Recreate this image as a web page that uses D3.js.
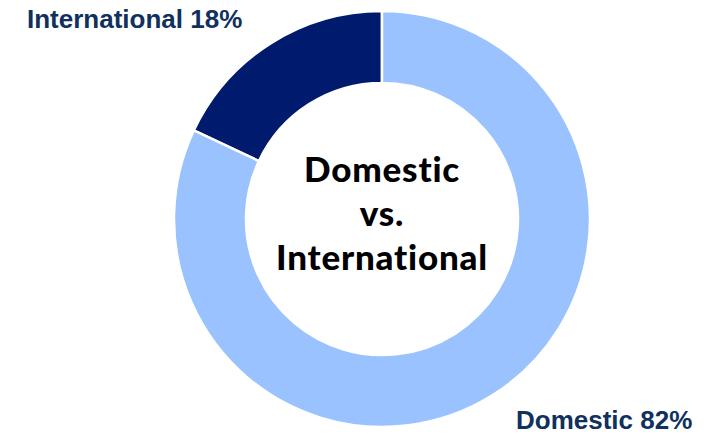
<!DOCTYPE html>
<html>
<head>
<meta charset="utf-8">
<script src="https://cdn.jsdelivr.net/npm/d3@7"></script>
<style>
  html, body { margin: 0; padding: 0; background: #fff; }
  svg { display: block; }
</style>
</head>
<body>
<svg id="chart" width="716" height="435"></svg>
<script>
const categories = ["International", "Domestic"];
const shares = [18, 82];
const sliceColors = ["#001A6E", "#99C2FF"];
const centerTitle = ["Domestic", "vs.", "International"];

const svg = d3.select("#chart");
const cx = 382, cy = 219, outerR = 208, innerR = 136;

const g = svg.append("g").attr("transform", `translate(${cx},${cy})`);

// International goes counter-clockwise from 12 o'clock, Domestic fills the rest
const pie = d3.pie().sort(null).value(d => d.v)
  .startAngle(-2 * Math.PI * shares[0] / 100)
  .endAngle(2 * Math.PI - 2 * Math.PI * shares[0] / 100);
const data = categories.map((c, i) => ({ c, v: shares[i], color: sliceColors[i] }));
const arc = d3.arc().innerRadius(innerR).outerRadius(outerR);

g.selectAll("path").data(pie(data)).join("path")
  .attr("d", arc)
  .attr("fill", d => d.data.color)
  .attr("stroke", "#fff")
  .attr("stroke-width", 2.5);

// center title
g.append("text")
  .attr("text-anchor", "middle")
  .attr("font-family", "Lato, 'DejaVu Sans', sans-serif")
  .attr("font-weight", 900)
  .attr("font-size", 35)
  .attr("letter-spacing", 0.8)
  .style("font-variant-ligatures", "none")
  .style("font-feature-settings", "'liga' 0, 'clig' 0")
  .attr("fill", "#000")
  .selectAll("tspan").data(centerTitle).join("tspan")
  .attr("x", 0)
  .attr("y", (d, i) => -37 + i * 44)
  .text(d => d);

// outside labels
const labelFont = "'Liberation Sans', Arial, sans-serif";
svg.append("text")
  .attr("x", 27).attr("y", 28)
  .attr("font-family", labelFont).attr("font-weight", 700).attr("font-size", 26)
  .attr("fill", "#10305E")
  .text(`${categories[0]} ${shares[0]}%`);
svg.append("text")
  .attr("x", 516).attr("y", 429)
  .attr("font-family", labelFont).attr("font-weight", 700).attr("font-size", 26)
  .attr("fill", "#10305E")
  .text(`${categories[1]} ${shares[1]}%`);
</script>
</body>
</html>
